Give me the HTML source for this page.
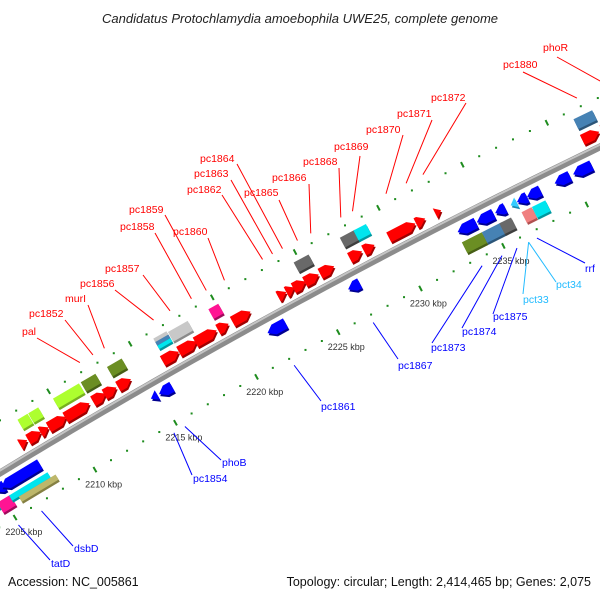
<!DOCTYPE html>
<html><head><meta charset="utf-8"><style>
html,body{margin:0;padding:0;background:#fff;}
svg{display:block;font-family:"Liberation Sans","DejaVu Sans",sans-serif;}
</style></head><body>
<svg id="chart" width="600" height="600" viewBox="0 0 600 600" xmlns="http://www.w3.org/2000/svg">
<text x="300" y="23" text-anchor="middle" font-size="13" font-style="italic" fill="#222">Candidatus Protochlamydia amoebophila UWE25, complete genome</text>
<g id="ticks"></g>
<g id="backbone"></g>
<g id="genes"></g>
<g id="labels"></g>
<text x="8" y="586" font-size="12.5" fill="#111">Accession: NC_005861</text>
<text x="591" y="586" text-anchor="end" font-size="12.5" fill="#111">Topology: circular; Length: 2,414,465 bp; Genes: 2,075</text>
</svg>
<script>
// ---- data ----
const geneCenter = [2207.47,2208.15,2208.77,2209.57,2210.80,2212.16,2212.84,2213.70,2216.54,2217.59,2218.70,2219.75,2220.86,2223.33,2223.83,2224.38,2225.12,2226.05,2227.78,2228.58,2230.56,2231.67,2232.72,2241.79,2242.95,
 2208.12,2208.78,2210.80,2212.16,2213.77,2217.65,2216.60,2216.60,2216.60,2219.81,2225.12,2227.90,2228.64,2241.90,
 2205.10,2206.42,2214.70,2215.40,2222.20,2226.90,2233.70,2234.80,2235.70,2236.50,2237.00,2237.70,2239.40,2240.60,
 2205.00,2204.45,2206.54,2206.90,2233.70,2234.90,2235.70,2236.98,2237.70];
const geneLength = [0.45,0.8,0.5,1.1,1.5,0.8,0.75,0.8,1.0,1.1,1.3,0.65,1.1,0.5,0.5,0.75,0.85,0.85,0.75,0.65,1.6,0.55,0.35,1.0,1.0,
 0.62,0.62,1.6,0.9,0.9,1.2,0.8,0.8,0.8,0.6,0.9,0.9,0.75,1.1,
 0.6,2.4,0.4,0.8,1.1,0.7,1.1,1.0,0.6,0.35,0.6,0.8,0.9,1.1,
 0.8,0.3,2.4,2.3,1.2,1.2,0.7,0.6,0.8];
const geneStrand = [1,1,1,1,1,1,1,1,1,1,1,1,1,1,1,1,1,1,1,1,1,1,1,1,1,
 0,0,0,0,0,0,0,0,0,0,0,0,0,0,
 -1,-1,-1,-1,-1,-1,-1,-1,-1,-1,-1,-1,-1,-1,
 0,0,0,0,0,0,0,0,0];
const geneRow = ["f1","f1","f1","f1","f1","f1","f1","f1","f1","f1","f1","f1","f1","f1","f1","f1","f1","f1","f1","f1","f1","f1","f1","f1","f1",
 "f2","f2","f2","f2","f2","f2","f2a","f2b","f2c","f2","f2","f2","f2","f2",
 "r1","r1","r1","r1","r1","r1","r1","r1","r1","r1","r1","r1","r1","r1",
 "r2","r2a","r2a","r2b","r2","r2","r2","r2","r2"];
const geneType = ["cds","cds","cds","cds","cds","cds","cds","cds","cds","cds","cds","cds","cds","cds","cds","cds","cds","cds","cds","cds","cds","cds","cds","cds","cds",
 "lgreen","lgreen","lgreen","olive","olive","lgray","lgray","steel","cyan","pink","dgray","dgray","cyan","steel",
 "cdsr","cdsr","cdsr","cdsr","cdsr","cdsr","cdsr","cdsr","cdsr","sky","cdsr","cdsr","cdsr","cdsr",
 "pink","cyan","cyan","tan","olive","steel","dgray","salmon","cyan"];
const tickStart = 2202, tickEnd = 2245;
const labelNames = ["pal","pc1852","murI","pc1856","pc1857","pc1858","pc1859","pc1860","pc1862","pc1863","pc1864","pc1865","pc1866","pc1868","pc1869","pc1870","pc1871","pc1872","pc1880","phoR",
 "tatD","dsbD","pc1854","phoB","pc1861","pc1867","pc1873","pc1874","pc1875","pct33","pct34","rrf"];
const labelKbp = [2212.2,2213.0,2213.7,2216.7,2217.7,2219.0,2219.9,2221.0,2223.3,2223.9,2224.5,2225.4,2226.2,2228.0,2228.7,2230.7,2231.9,2232.9,2242.0,2243.7,
 2204.95,2206.4,2214.66,2215.34,2222.07,2226.9,2233.5,2234.7,2235.6,2236.3,2236.3,2236.8];
const labelStrand = [1,1,1,1,1,1,1,1,1,1,1,1,1,1,1,1,1,1,1,1,-1,-1,-1,-1,-1,-1,-1,-1,-1,-1,-1,-1];
// ---- layout (text placement, not data) ----
const labelTextPos = [[22,335],[29,317],[65,302],[80,287],[105,272],[120,230],[129,213],[173,235],[187,193],[194,177],[200,162],[244,196],[272,181],[303,165],[334,150],[366,133],[397,117],[431,101],[503,68],[543,51],
 [51,567],[74,552],[193,482],[222,466],[321,410],[398,369],[431,351],[462,335],[493,320],[523,303],[556,288],[585,272]];
const labelLineStart = [[37,338],[65,320],[88,305],[115,290],[143,275],[155,233],[165,215],[208,238],[222,195],[231,180],[237,164],[279,200],[309,184],[339,168],[360,156],[403,135],[432,120],[466,103],[523,72],[557,57],
 [50,560],[73,546],[192,475],[221,460],[321,401],[398,359],[432,343],[462,328],[493,314],[523,294],[556,282],[585,263]];
const rowOff = {f1:[14,11],f2:[31,11],f2a:[36,4],f2b:[32,4],f2c:[28,4],r1:[-13,11],r2:[-30,12],r2a:[-27,6],r2b:[-33,6]};
const typeColor = {cds:["#ff0000","#a00000"],cdsr:["#0000ff","#000090"],lgreen:["#adff2f","#77b020"],olive:["#6b8e23","#465e16"],lgray:["#c8c8c8","#8a8a8a"],
 steel:["#4682b4","#2c5578"],cyan:["#00e5ee","#00979e"],pink:["#ff1493","#a00c5c"],dgray:["#696969","#3e3e3e"],sky:["#33ccff","#1a88b0"],tan:["#bdb76b","#858043"],salmon:["#f08080","#b05050"]};

const CX=3671, CY=6514, R0=7069, A0=31.37, DEG=0.152;
function P(k,off){const a=(A0-(k-2205)*DEG)*Math.PI/180;const r=R0+off;return [CX-r*Math.sin(a),CY-r*Math.cos(a)];}
const NS="http://www.w3.org/2000/svg";
function mk(tag,attrs,parent){const e=document.createElementNS(NS,tag);for(const k in attrs)e.setAttribute(k,attrs[k]);parent.appendChild(e);return e;}
function pts(a){return a.map(p=>p[0].toFixed(2)+","+p[1].toFixed(2)).join(" ");}

// ticks
const gT=document.getElementById("ticks");
for(let k=tickStart;k<=tickEnd;k++){
  for(const off of [45,-46]){
    if(k%5===0){
      const a=P(k,off-3),b=P(k,off+3);
      const t=mk("line",{x1:a[0],y1:a[1],x2:b[0],y2:b[1],stroke:"#1e8c1e","stroke-width":2},gT);
      
      
    } else {
      const c=P(k,off);
      const d=mk("rect",{x:c[0]-1,y:c[1]-1,width:2,height:2,fill:"#1e8c1e"},gT);
      
      
    }
  }
  if(k%5===0){
    const c=P(k,-63);
    if(c[0]>-10 && c[0]+22<600){
      const lt=mk("text",{x:c[0],y:c[1]+3,"text-anchor":"middle","font-size":"9",fill:"#333"},gT);
      lt.textContent=k+" kbp";
      
      
    }
  }
}
// backbone
const gB=document.getElementById("backbone");
const bp=[];for(let k=tickStart;k<=tickEnd;k+=0.5)bp.push(P(k,0));
const bl=mk("polyline",{points:pts(bp),fill:"none",stroke:"#8c8c8c","stroke-width":7},gB);


const bp2=[];for(let k=tickStart;k<=tickEnd;k+=0.5)bp2.push(P(k,2));
const bh=mk("polyline",{points:pts(bp2),fill:"none",stroke:"#c4c4c4","stroke-width":2},gB);



// genes
const gG=document.getElementById("genes");
for(let i=0;i<geneCenter.length;i++){
  const [off,h]=rowOff[geneRow[i]];
  const s=geneCenter[i]-geneLength[i]/2, e=geneCenter[i]+geneLength[i]/2;
  const top=off+h/2, bot=off-h/2, mid=off;
  const head=Math.min(geneLength[i],0.4);
  let poly;
  if(geneStrand[i]===1) poly=[P(s,top),P(e-head,top),P(e,mid),P(e-head,bot),P(s,bot)];
  else if(geneStrand[i]===-1) poly=[P(s,mid),P(s+head,top),P(e,top),P(e,bot),P(s+head,bot)];
  else poly=[P(s,top),P(e,top),P(e,bot),P(s,bot)];
  const col=typeColor[geneType[i]];
  const sh=mk("polygon",{points:pts(poly.map(p=>[p[0]+1.2,p[1]+2])),fill:col[1]},gG);
  
  
  const g=mk("polygon",{points:pts(poly),fill:col[0]},gG);
  
  
}

// labels
const gL=document.getElementById("labels");
for(let i=0;i<labelNames.length;i++){
  const fwd=labelStrand[i]===1;
  let color=fwd?"#ff0000":"#0000ff";
  if(labelNames[i]==="pct33"||labelNames[i]==="pct34")color="#22bbff";
  const end=P(labelKbp[i],fwd?54:-54);
  const s=labelLineStart[i];
  const ln=mk("line",{x1:s[0],y1:s[1],x2:end[0],y2:end[1],stroke:color,"stroke-width":1},gL);
  
  
  const tp=labelTextPos[i];
  const t=mk("text",{x:tp[0],y:tp[1],"font-size":"10.5",fill:color},gL);
  t.textContent=labelNames[i];
  
  
}
</script>
</body></html>
